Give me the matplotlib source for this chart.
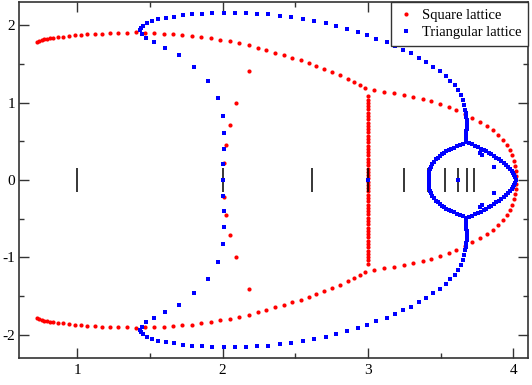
import numpy as np
import matplotlib
matplotlib.use("Agg")
import matplotlib.pyplot as plt
from matplotlib.ticker import MultipleLocator, FuncFormatter

# ---------------- data (upper half; zeros come in conjugate pairs) ----------------
# Square lattice: outer arc, left branch (to junction near q=3)
sq_left_x = [0.723, 0.739, 0.756, 0.773, 0.791, 0.814, 0.837, 0.871, 0.906, 0.945, 0.986,
             1.028, 1.071, 1.124, 1.174, 1.227, 1.284, 1.342, 1.406, 1.468, 1.530, 1.594,
             1.659, 1.720, 1.787, 1.853, 1.917, 1.984, 2.050, 2.115, 2.179, 2.241, 2.300,
             2.363, 2.425, 2.480, 2.540, 2.592, 2.645, 2.700, 2.755, 2.810, 2.860, 2.905,
             2.943, 2.977]
sq_left_y = [1.786, 1.800, 1.810, 1.820, 1.826, 1.832, 1.838, 1.845, 1.852, 1.860, 1.868,
             1.876, 1.882, 1.889, 1.893, 1.898, 1.902, 1.905, 1.906, 1.903, 1.897, 1.893,
             1.889, 1.879, 1.867, 1.850, 1.832, 1.810, 1.790, 1.765, 1.740, 1.710, 1.680,
             1.644, 1.613, 1.580, 1.545, 1.510, 1.476, 1.437, 1.394, 1.355, 1.308, 1.260,
             1.222, 1.187]
# Square lattice: right branch (junction to real axis near q=4)
sq_right_x = [3.040, 3.108, 3.177, 3.246, 3.310, 3.376, 3.436, 3.498, 3.555, 3.608, 3.668,
              3.718, 3.768, 3.815, 3.861, 3.897, 3.930, 3.957, 3.975, 3.990, 4.003, 4.010,
              4.014, 4.016]
sq_right_y = [1.166, 1.140, 1.119, 1.100, 1.076, 1.050, 1.020, 0.985, 0.947, 0.900, 0.852,
              0.805, 0.753, 0.697, 0.641, 0.581, 0.521, 0.452, 0.387, 0.319, 0.250, 0.180,
              0.116, 0.050]
# Square lattice: vertical segment at q = 3
sq_vert_x = [3.003] * 26
sq_vert_y = [0.020, 0.062, 0.105, 0.147, 0.190, 0.232, 0.275, 0.317, 0.360, 0.402, 0.445,
             0.487, 0.530, 0.572, 0.615, 0.657, 0.700, 0.742, 0.785, 0.827, 0.870, 0.912,
             0.955, 0.997, 1.040, 1.082]
# Square lattice: isolated zeros near q = 2
sq_in_x = [2.007, 2.023, 2.049, 2.094, 2.179]
sq_in_y = [0.224, 0.457, 0.706, 0.994, 1.403]

# Triangular lattice: outer arc
tri_out_x = [1.429, 1.438, 1.456, 1.480, 1.514, 1.555, 1.608, 1.663, 1.727, 1.791, 1.860,
             1.929, 2.007, 2.083, 2.160, 2.237, 2.310, 2.392, 2.473, 2.553, 2.631, 2.709,
             2.782, 2.856, 2.929, 2.994, 3.058, 3.127, 3.182, 3.242, 3.297, 3.349, 3.402,
             3.448, 3.498, 3.535, 3.567, 3.595, 3.618, 3.636, 3.650, 3.660, 3.668, 3.672,
             3.675, 3.677, 3.679, 3.680, 3.680, 3.679, 3.678, 3.677, 3.676, 3.675, 3.674,
             3.673, 3.672]
tri_out_y = [1.932, 1.966, 1.996, 2.026, 2.052, 2.074, 2.095, 2.112, 2.130, 2.142, 2.151,
             2.155, 2.160, 2.160, 2.155, 2.147, 2.140, 2.125, 2.108, 2.086, 2.060, 2.030,
             1.996, 1.957, 1.915, 1.876, 1.828, 1.781, 1.729, 1.686, 1.635, 1.579, 1.523,
             1.463, 1.403, 1.342, 1.277, 1.222, 1.160, 1.095, 1.030, 0.965, 0.900, 0.870,
             0.840, 0.810, 0.780, 0.750, 0.720, 0.690, 0.660, 0.630, 0.600, 0.570, 0.540,
             0.515, 0.495]
# Triangular lattice: inner branch from the cusp down to q = 2
tri_in_x = [1.445, 1.475, 1.528, 1.601, 1.697, 1.805, 1.902, 1.968, 2.003, 2.007, 2.007, 2.003]
tri_in_y = [1.893, 1.841, 1.786, 1.708, 1.609, 1.463, 1.277, 1.054, 0.826, 0.607, 0.396, 0.203]
# Triangular lattice: closed loop around q ~ 3.4 .. 4
tri_loop_x = [3.650, 3.630, 3.610, 3.590, 3.573, 3.556, 3.538, 3.520, 3.507, 3.494, 3.478,
              3.464, 3.452, 3.441, 3.432, 3.425, 3.420, 3.418, 3.416, 3.416,
              3.695, 3.716, 3.735, 3.755, 3.776, 3.796, 3.813, 3.831, 3.848, 3.865, 3.882,
              3.900, 3.917, 3.934, 3.948, 3.962, 3.975, 3.987, 3.995, 4.003, 4.010, 4.014]
tri_loop_y = [0.465, 0.448, 0.433, 0.418, 0.403, 0.387, 0.370, 0.353, 0.332, 0.310, 0.288,
              0.267, 0.235, 0.203, 0.170, 0.138, 0.105, 0.074, 0.040, 0.010,
              0.475, 0.460, 0.443, 0.426, 0.407, 0.387, 0.370, 0.353, 0.332, 0.310, 0.289,
              0.267, 0.241, 0.215, 0.190, 0.168, 0.142, 0.116, 0.090, 0.065, 0.033, 0.005]
# Triangular lattice: isolated zeros inside the loop
tri_iso_x = [3.767, 3.785, 3.865]
tri_iso_y = [0.350, 0.322, 0.168]
# Triangular lattice: real zeros
tri_real_x = [2.0, 3.0, 3.618]
tri_real_y = [0.0, 0.0, 0.0]

# Beraha numbers B_n = 4 cos^2(pi/n), n = 3..12
beraha = [1.0, 2.0, 2.618, 3.0, 3.247, 3.414, 3.532, 3.618, 3.683, 3.732]

def full(xs, ys):
    xs = np.asarray(xs, float); ys = np.asarray(ys, float)
    return np.concatenate([xs, xs]), np.concatenate([ys, -ys])

sq_parts = [(sq_left_x, sq_left_y), (sq_right_x, sq_right_y),
            (sq_vert_x, sq_vert_y), (sq_in_x, sq_in_y)]
tri_parts = [(tri_out_x, tri_out_y), (tri_in_x, tri_in_y),
             (tri_loop_x, tri_loop_y), (tri_iso_x, tri_iso_y)]

sqx = np.concatenate([full(a, b)[0] for a, b in sq_parts])
sqy = np.concatenate([full(a, b)[1] for a, b in sq_parts])
trx = np.concatenate([full(a, b)[0] for a, b in tri_parts] + [np.array(tri_real_x)])
try_ = np.concatenate([full(a, b)[1] for a, b in tri_parts] + [np.array(tri_real_y)])

# ---------------- plot ----------------
plt.rcParams['font.family'] = ['Liberation Serif', 'DejaVu Serif']
fig = plt.figure(figsize=(5.32, 3.85), dpi=100)
ax = fig.add_axes([0.0357, 0.0701, 0.9568, 0.9247])

ax.plot(sqx, sqy, linestyle='none', marker='o', ms=3.0, mew=0,
        color='#ff0000', label='Square lattice', zorder=2)
ax.vlines(beraha, -0.15, 0.15, color='black', lw=1.1, zorder=3)
ax.plot(trx, try_, linestyle='none', marker='s', ms=2.8, mew=0,
        color='#0000ff', label='Triangular lattice', zorder=4)

ax.set_xlim(0.6, 4.1)
ax.set_ylim(-2.3, 2.3)
ax.xaxis.set_major_locator(MultipleLocator(1))
ax.xaxis.set_minor_locator(MultipleLocator(0.5))
ax.yaxis.set_major_locator(MultipleLocator(1))
ax.yaxis.set_minor_locator(MultipleLocator(0.5))
fmt = FuncFormatter(lambda v, p: ('%d' % round(v)).replace('\u2212', '-'))
ax.xaxis.set_major_formatter(fmt)
ax.yaxis.set_major_formatter(fmt)
ax.tick_params(which='both', direction='in', top=True, right=True, width=1.0,
               labelsize=11, color='#333333')
ax.tick_params(which='major', length=7.5, pad=4)
ax.tick_params(which='minor', length=3.8)
ax.tick_params(axis='y', pad=3)
for s in ax.spines.values():
    s.set_linewidth(1.2)
    s.set_color('#333333')

leg = ax.legend(loc='upper right', borderaxespad=0, fancybox=False, framealpha=1,
                edgecolor='#333333', fontsize=10.5, handlelength=1.15, handletextpad=0.5,
                borderpad=0.45, labelspacing=0.3, markerscale=1.0, numpoints=1)
leg.get_frame().set_linewidth(1.0)

fig.savefig('out.png', dpi=100)
